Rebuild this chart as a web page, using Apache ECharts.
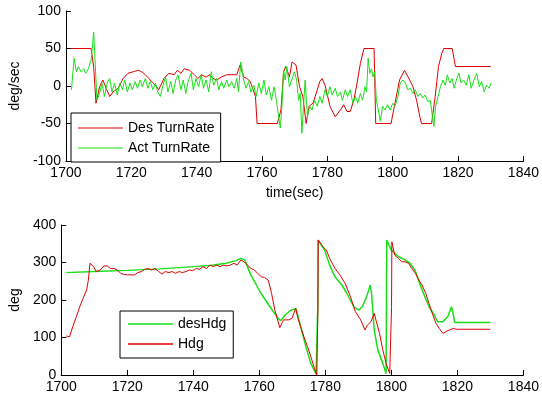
<!DOCTYPE html>
<html>
<head>
<meta charset="utf-8">
<script src="https://cdn.jsdelivr.net/npm/echarts@6/dist/echarts.min.js"></script>
<style>
  html, body { margin: 0; padding: 0; background: #fff; }
  #main { width: 542px; height: 402px; }
</style>
</head>
<body>
<div id="main"></div>
<script>
// top panel: turn rate (time, deg/sec)
var desTurnRate = [
  [1701.5,50],[1707.7,50],[1708.5,25],[1709.2,-23],[1710.3,-1],[1711.3,8],[1712.3,-3],[1713.4,-14],
  [1714.4,-8],[1716,-3],[1717.5,10],[1719,17],[1720.6,19],[1722.2,21],[1723.2,19],[1724.3,15],
  [1725.8,8],[1727.4,1],[1728.4,-5],[1730,10],[1731.5,17],[1733.1,15],[1734.1,21],[1735.2,17],
  [1736.2,23],[1737.8,21],[1739.3,15],[1740.4,10],[1741.4,15],[1742.9,12],[1744,15],[1745,10],
  [1746.1,8],[1747.6,12],[1749.2,15],[1750.7,15],[1752.3,15],[1753.3,28],[1754.4,12],[1755.4,10],
  [1756.4,6],[1758,-14],[1758.5,-50],[1764.7,-50],[1765.8,-32],[1766.6,19],[1767.3,26],[1768.4,12],
  [1769.2,32],[1770.4,28],[1771.5,-1],[1772.5,-14],[1773.5,-50],[1774.4,-27],[1775.6,-23],[1776.7,-8],
  [1777.7,6],[1778.4,10],[1779.3,1],[1780.8,-27],[1782.4,-41],[1784,-32],[1785,-25],[1786,-34],
  [1787,-34],[1788.1,-19],[1789.1,4],[1790.1,30],[1791.2,50],[1794.3,50],[1794.8,-50],[1799.5,-50],
  [1800.5,-27],[1802.1,8],[1803.6,21],[1805.2,8],[1806.2,-1],[1807.3,-19],[1808.3,-41],[1808.8,-50],
  [1811.9,-50],[1813,-14],[1814,26],[1815,43],[1815.6,50],[1818.2,50],[1819.2,26],[1830,26]
];
var actTurnRate = [
  [1701.7,-5],[1702.5,37],[1703.2,19],[1703.8,26],[1704.6,19],[1705.4,23],[1706.1,17],[1706.9,23],
  [1707.7,35],[1708.2,57],[1708.5,72],[1708.9,35],[1709.5,-19],[1710.3,-10],[1711,4],[1711.8,-14],
  [1712.6,4],[1713.4,10],[1714.1,-8],[1714.9,4],[1715.7,-12],[1716.5,4],[1717.3,-5],[1718,8],
  [1718.8,-8],[1719.6,4],[1720.3,-5],[1721.2,6],[1721.9,-3],[1722.7,8],[1723.4,-1],[1724.3,10],
  [1725.1,-3],[1725.8,6],[1726.6,-5],[1727.4,4],[1728.1,-8],[1728.9,-14],[1729.7,1],[1730.5,12],
  [1731.2,-8],[1732.1,6],[1732.8,-10],[1733.6,8],[1734.3,15],[1735.2,-5],[1735.9,8],[1736.7,-10],
  [1737.4,6],[1738.3,17],[1739,-5],[1739.8,10],[1740.6,-1],[1741.4,15],[1742.1,-3],[1742.9,8],
  [1743.7,-8],[1744.5,19],[1745.2,1],[1746.1,10],[1746.8,-5],[1747.6,6],[1748.3,-3],[1749.2,8],
  [1749.9,-1],[1750.7,6],[1751.5,-3],[1752.3,10],[1752.8,-8],[1753.5,32],[1754.4,8],[1755.1,-3],
  [1755.9,6],[1756.6,-8],[1757.5,1],[1758.2,-14],[1759,4],[1759.8,-10],[1760.6,8],[1761.3,-12],
  [1762.1,-1],[1762.9,-19],[1763.7,-1],[1764.4,-19],[1765,-38],[1765.6,-56],[1766.1,-27],[1766.6,21],
  [1767.1,8],[1767.6,26],[1768.4,-1],[1769.1,8],[1769.9,19],[1770.6,8],[1771.2,-19],[1771.7,-10],
  [1772.2,-63],[1772.7,-27],[1773.2,8],[1773.9,-41],[1774.6,-27],[1775.3,-32],[1776.1,-19],[1776.9,-27],
  [1777.7,-14],[1778.4,-23],[1779.3,-5],[1780,-14],[1780.8,-1],[1781.5,-12],[1782.4,-3],[1783.1,-14],
  [1784,-8],[1784.6,-19],[1785.5,-5],[1786.2,-14],[1787,-5],[1787.8,-23],[1788.6,-14],[1789.3,-23],
  [1790.1,-10],[1790.8,-19],[1791.5,-1],[1792,-8],[1792.5,37],[1793,17],[1793.5,23],[1794,12],
  [1794.5,19],[1795,-19],[1795.6,-32],[1796.2,-47],[1796.9,-27],[1797.6,-32],[1798.4,-25],[1799.2,-32],
  [1800,-23],[1800.7,-27],[1801.6,-14],[1802.3,4],[1803.1,8],[1803.9,4],[1804.6,-5],[1805.4,-3],
  [1806.2,-10],[1806.9,-5],[1807.7,-14],[1808.4,-10],[1809.2,-16],[1809.9,-12],[1810.8,-21],[1811.5,-19],
  [1812,-36],[1812.6,-54],[1813.1,-27],[1813.9,-14],[1814.6,-1],[1815.4,8],[1816.1,1],[1816.7,15],
  [1817.5,4],[1818.2,10],[1818.8,-3],[1819.6,10],[1820.3,17],[1820.9,4],[1821.7,8],[1822.5,1],
  [1823.3,15],[1824,-3],[1824.9,8],[1825.7,17],[1826.5,-1],[1827.2,6],[1828,-8],[1828.7,1],
  [1829.5,-3],[1830.1,4]
];

// bottom panel: heading (time, deg)
var desHdg = [
  [1701.5,273],[1710,276],[1720,279],[1730,283],[1740,289],[1745,292],[1750,298],[1753,305],
  [1754.4,311],[1755.6,307],[1757.2,271],[1760.2,222],[1763.2,182],[1765.7,151],[1766.5,145],
  [1767.8,160],[1769.4,172],[1771.1,177],[1772,147],[1774.1,76],[1775.6,31],[1777.2,3],[1777.6,2],
  [1777.7,180],[1777.8,360],[1778.2,356],[1779.8,333],[1781.3,293],[1782.9,262],[1785,240],
  [1786.5,218],[1788.6,182],[1790.1,173],[1791.2,182],[1792.5,209],[1793.6,240],[1794,218],
  [1794.8,120],[1795.9,67],[1797.4,31],[1798.4,4],[1798.5,180],[1798.6,360],[1798.8,358],
  [1800,333],[1802.1,316],[1804.1,307],[1805.7,298],[1807.3,276],[1809.3,227],[1811.4,182],
  [1813,160],[1814,142],[1815.6,142],[1817.1,156],[1818.2,182],[1818.7,164],[1819.2,140],[1830,140]
];
var hdg = [
  [1701.5,104],[1702.5,102],[1703.5,129],[1704.6,156],[1705.6,182],[1706.6,204],[1707.7,227],
  [1708.2,253],[1708.7,298],[1709.2,293],[1709.8,289],[1710.6,276],[1711.8,280],[1712.9,291],
  [1713.9,291],[1714.9,284],[1716,284],[1717,280],[1718,271],[1719.1,268],[1720.1,267],[1721.2,267],
  [1722.2,267],[1723.2,273],[1724.3,276],[1725.3,282],[1726.3,284],[1727.4,280],[1728.4,284],
  [1729.5,276],[1730.5,269],[1731.5,276],[1732.6,273],[1733.6,276],[1734.6,271],[1735.7,276],
  [1736.7,273],[1737.8,276],[1738.8,280],[1739.8,278],[1740.9,284],[1741.9,282],[1742.9,289],
  [1744,284],[1745,293],[1746.1,289],[1747.1,293],[1748.1,289],[1749.2,293],[1750.2,291],
  [1751.2,293],[1752.3,298],[1753.3,293],[1754.4,307],[1755.4,302],[1756.4,293],[1757.5,284],
  [1758.5,280],[1759.5,271],[1760.6,262],[1761.6,260],[1762.7,253],[1763.7,218],[1764.7,173],
  [1766.2,126],[1767.3,147],[1768.9,147],[1769.9,151],[1771,178],[1771.7,151],[1772.5,129],
  [1773,129],[1773.5,102],[1774.6,76],[1775.6,49],[1776.7,18],[1777.4,0],[1777.7,0],[1777.75,180],
  [1777.85,360],[1778.2,360],[1779.3,342],[1780.3,333],[1781.3,311],[1782.9,284],[1784.4,267],
  [1786,244],[1787.6,209],[1789.1,169],[1790.7,147],[1792,120],[1792.7,133],[1793.8,142],
  [1794.8,164],[1795.3,160],[1796.4,111],[1797.4,67],[1798.4,31],[1799.5,4],[1800,0],[1800.05,180],
  [1800.15,355],[1801,320],[1802.1,311],[1803.1,302],[1804.1,302],[1805.2,298],[1806.2,284],
  [1807.3,271],[1808.3,253],[1809.3,240],[1810.4,218],[1811.4,191],[1812.4,164],[1813.5,138],
  [1814.5,124],[1815.6,111],[1816.6,116],[1817.6,120],[1818.7,124],[1819.7,122],[1830,122]
];

var RED = '#e00000';
var GREEN = '#18e018';
var FONT = 'Liberation Sans';

function plain(v) { return String(v); }

function xAxisOf(grid, name) {
  return {
    type: 'value', gridIndex: grid, min: 1700, max: 1840, interval: 20,
    name: name, nameLocation: 'middle', nameGap: 25,
    nameTextStyle: { color: '#000', fontSize: 14, fontFamily: FONT },
    axisLine: { show: true, onZero: false, lineStyle: { color: '#000', width: 1 } },
    axisTick: { show: true, inside: true, length: 5, lineStyle: { color: '#000' } },
    axisLabel: { color: '#000', fontSize: 14, fontFamily: FONT, margin: 5, formatter: plain },
    splitLine: { show: false }
  };
}
function yAxisOf(grid, min, max, step, name, gap) {
  return {
    type: 'value', gridIndex: grid, min: min, max: max, interval: step,
    name: name, nameLocation: 'middle', nameGap: gap,
    nameTextStyle: { color: '#000', fontSize: 14, fontFamily: FONT },
    axisLine: { show: true, lineStyle: { color: '#000', width: 1 } },
    axisTick: { show: true, inside: true, length: 5, lineStyle: { color: '#000' } },
    axisLabel: { color: '#000', fontSize: 14, fontFamily: FONT, margin: 5, formatter: plain },
    splitLine: { show: false }
  };
}
function lineOf(name, data, color, axis, w) {
  return {
    name: name, type: 'line', xAxisIndex: axis, yAxisIndex: axis,
    data: data, symbol: 'none', smooth: false,
    lineStyle: { color: color, width: w }, itemStyle: { color: color }
  };
}
// legend swatch is a plain short line, like the matlab one
function legendOf(items, left, top, pad, h) {
  return {
    data: items, orient: 'vertical', left: left, top: top,
    icon: 'rect', itemWidth: 45, itemHeight: h, itemGap: 6, padding: pad,
    borderColor: '#000', borderWidth: 1, backgroundColor: '#fff',
    textStyle: { color: '#000', fontSize: 14, fontFamily: FONT, lineHeight: 14 }
  };
}

var chart = echarts.init(document.getElementById('main'));
chart.setOption({
  animation: false,
  backgroundColor: '#fff',
  grid: [
    { left: 60, top: 11, width: 468, height: 150 },
    { left: 60, top: 225, width: 468, height: 150 }
  ],
  xAxis: [xAxisOf(0, 'time(sec)'), xAxisOf(1, '')],
  yAxis: [yAxisOf(0, -100, 100, 50, 'deg/sec', 38), yAxisOf(1, 0, 400, 100, 'deg', 38)],
  legend: [
    legendOf(['Des TurnRate', 'Act TurnRate'], 71, 113, [8, 6, 7, 7], 1.2),
    legendOf(['desHdg', 'Hdg'], 120, 311, [6, 7, 7, 8], 1.6)
  ],
  series: [
    lineOf('Des TurnRate', desTurnRate, RED, 0, 1),
    lineOf('Act TurnRate', actTurnRate, GREEN, 0, 1),
    lineOf('desHdg', desHdg, GREEN, 1, 1.5),
    lineOf('Hdg', hdg, RED, 1, 1)
  ]
});
</script>
</body>
</html>
